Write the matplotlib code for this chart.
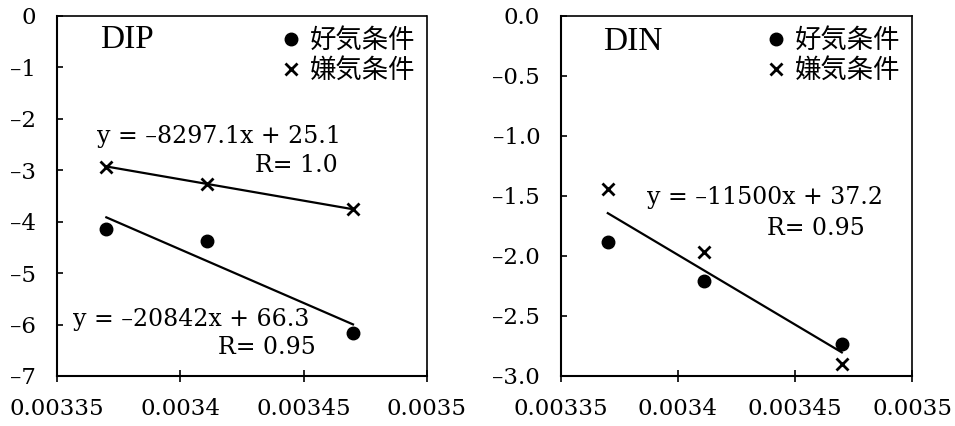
import matplotlib
matplotlib.use("Agg")
import matplotlib.pyplot as plt
import numpy as np

plt.rcParams['font.family'] = ['DejaVu Serif', 'Noto Sans CJK JP']

# Data
x_vals = [0.00337, 0.003411, 0.00347]
dip_aerobic = [-4.15, -4.37, -6.16]
dip_anaerobic = [-2.93, -3.26, -3.76]
din_aerobic = [-1.88, -2.21, -2.73]
din_anaerobic = [-1.44, -1.97, -2.90]
labels = ['好気条件', '嫌気条件']
x_ticks = [0.00335, 0.0034, 0.00345, 0.0035]
x_ticklabels = ['0.00335', '0.0034', '0.00345', '0.0035']
dip_yticks = [0, -1, -2, -3, -4, -5, -6, -7]
din_yticks = [0.0, -0.5, -1.0, -1.5, -2.0, -2.5, -3.0]
dip_eq = ['y = –8297.1x + 25.1', 'R= 1.0', 'y = –20842x + 66.3', 'R= 0.95']
din_eq = ['y = –11500x + 37.2', 'R= 0.95']

fig = plt.figure(figsize=(9.55, 4.26), dpi=100)
ax1 = fig.add_axes([57/955, 1-376/426, 370/955, 360/426])
ax2 = fig.add_axes([561/955, 1-376/426, 351/955, 360/426])

def style(ax, yticks, fmt):
    ax.set_xlim(0.00335, 0.0035)
    ax.set_xticks(x_ticks)
    ax.set_xticklabels(x_ticklabels)
    ax.set_yticks(yticks)
    ax.set_yticklabels([fmt.format(v).replace('-', '–') for v in yticks])
    ax.set_ylim(min(yticks), max(yticks))
    ax.tick_params(axis='x', direction='inout', length=9, width=1.2, pad=11, labelsize=16.5)
    ax.tick_params(axis='y', direction='in', length=4, width=1.2, pad=15, labelsize=16.5)
    for s in ['left', 'bottom']:
        ax.spines[s].set_linewidth(1.5)
    for s in ['top', 'right']:
        ax.spines[s].set_linewidth(1.2)
        ax.spines[s].set_linestyle((0, (1.5, 1)))

xa = np.array(x_vals)
xl = np.array([xa.min(), xa.max()])
txt = dict(fontsize=17, va='center', ha='left')
leg = dict(loc='upper right', frameon=False, fontsize=19, handletextpad=0.2,
           borderaxespad=0.2, handlelength=1.0, labelspacing=0.2, borderpad=0.25)

# Left panel: DIP
h1, = ax1.plot(x_vals, dip_aerobic, 'o', color='black', ms=9, linestyle='none')
h2, = ax1.plot(x_vals, dip_anaerobic, 'x', color='black', ms=9, mew=2, linestyle='none')
for ys in (dip_aerobic, dip_anaerobic):
    p = np.polyfit(xa, np.array(ys), 1)
    ax1.plot(xl, np.polyval(p, xl), color='black', lw=1.6)
style(ax1, dip_yticks, '{:d}')
ax1.text(0.116, 0.911, 'DIP', transform=ax1.transAxes, fontsize=24, va='baseline', ha='left',
         family='Liberation Serif')
ax1.text(0.108, 0.664, dip_eq[0], transform=ax1.transAxes, **txt)
ax1.text(0.535, 0.586, dip_eq[1], transform=ax1.transAxes, **txt)
ax1.text(0.043, 0.156, dip_eq[2], transform=ax1.transAxes, **txt)
ax1.text(0.435, 0.078, dip_eq[3], transform=ax1.transAxes, **txt)
ax1.legend([h1, h2], labels, **leg)

# Right panel: DIN
g1, = ax2.plot(x_vals, din_aerobic, 'o', color='black', ms=9, linestyle='none')
g2, = ax2.plot(x_vals, din_anaerobic, 'x', color='black', ms=9, mew=2, linestyle='none')
xall = np.concatenate([xa, xa])
yall = np.concatenate([din_aerobic, din_anaerobic])
p = np.polyfit(xall, yall, 1)
ax2.plot(xl, np.polyval(p, xl), color='black', lw=1.6)
style(ax2, din_yticks, '{:.1f}')
ax2.text(0.12, 0.906, 'DIN', transform=ax2.transAxes, fontsize=24, va='baseline', ha='left',
         family='Liberation Serif')
ax2.text(0.245, 0.497, din_eq[0], transform=ax2.transAxes, **txt)
ax2.text(0.587, 0.411, din_eq[1], transform=ax2.transAxes, **txt)
ax2.legend([g1, g2], labels, **leg)

fig.savefig('out.png', dpi=100)
